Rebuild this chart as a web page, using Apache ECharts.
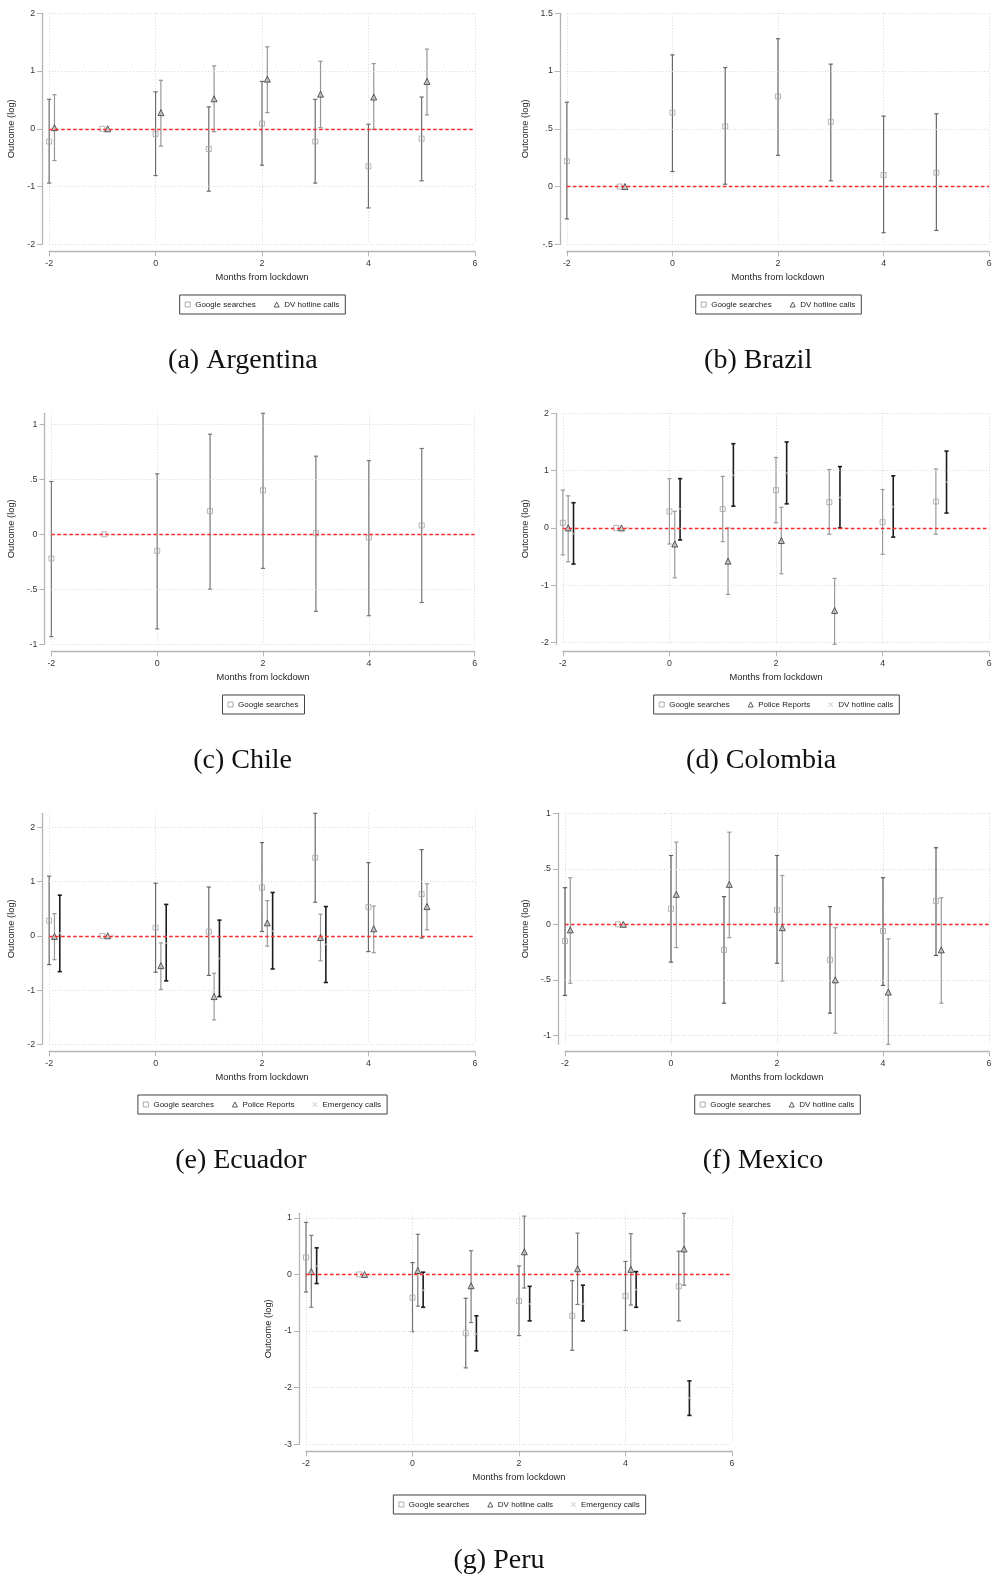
<!DOCTYPE html>
<html><head><meta charset="utf-8">
<script src="https://cdn.jsdelivr.net/npm/echarts@6/dist/echarts.min.js"></script>
<style>
html,body{margin:0;padding:0;background:#fff;overflow:hidden;width:993px;height:1576px;position:relative}
.panel{position:absolute;}
</style></head><body>
<script>
// ---------- DATA ----------
const months = [-2, -1, 0, 1, 2, 3, 4, 5];
const xTicks = [-2, 0, 2, 4, 6];

// (a) Argentina
const arg_google    = [-0.22, 0, -0.09, -0.35, 0.09, -0.22, -0.65, -0.17];
const arg_google_lo = [-0.94, 0, -0.81, -1.08, -0.63, -0.94, -1.37, -0.90];
const arg_google_hi = [0.51, 0, 0.64, 0.38, 0.82, 0.51, 0.08, 0.55];
const arg_dv        = [0.02, 0, 0.28, 0.52, 0.86, 0.60, 0.55, 0.82];
const arg_dv_lo     = [-0.55, 0, -0.30, -0.05, 0.28, 0.02, -0.01, 0.24];
const arg_dv_hi     = [0.59, 0, 0.84, 1.09, 1.42, 1.17, 1.13, 1.38];
const arg_yTicks    = [-2, -1, 0, 1, 2];

// (b) Brazil
const bra_google    = [0.22, 0, 0.64, 0.52, 0.78, 0.56, 0.10, 0.12];
const bra_google_lo = [-0.28, 0, 0.13, 0.02, 0.27, 0.05, -0.40, -0.38];
const bra_google_hi = [0.73, 0, 1.14, 1.03, 1.28, 1.06, 0.61, 0.63];
const bra_dv        = [null, 0, null, null, null, null, null, null];
const bra_dv_lo     = [null, 0, null, null, null, null, null, null];
const bra_dv_hi     = [null, 0, null, null, null, null, null, null];
const bra_yTicks    = [-0.5, 0, 0.5, 1, 1.5];

// (c) Chile
const chl_google    = [-0.22, 0, -0.15, 0.21, 0.40, 0.01, -0.03, 0.08];
const chl_google_lo = [-0.93, 0, -0.86, -0.50, -0.31, -0.70, -0.74, -0.62];
const chl_google_hi = [0.48, 0, 0.55, 0.91, 1.10, 0.71, 0.67, 0.78];
const chl_yTicks    = [-1, -0.5, 0, 0.5, 1];

// (d) Colombia
const col_google    = [0.09, 0, 0.29, 0.33, 0.66, 0.45, 0.10, 0.46];
const col_google_lo = [-0.47, 0, -0.28, -0.24, 0.09, -0.11, -0.46, -0.11];
const col_google_hi = [0.66, 0, 0.86, 0.90, 1.23, 1.02, 0.67, 1.03];
const col_police    = [0.00, 0, -0.28, -0.58, -0.22, -1.44, null, null];
const col_police_lo = [-0.59, 0, -0.87, -1.16, -0.80, -2.03, null, null];
const col_police_hi = [0.56, 0, 0.29, 0.00, 0.36, -0.88, null, null];
const col_dv        = [-0.10, 0, 0.33, 0.92, 0.96, 0.53, 0.37, 0.80];
const col_dv_lo     = [-0.63, 0, -0.21, 0.38, 0.42, 0.00, -0.16, 0.26];
const col_dv_hi     = [0.44, 0, 0.86, 1.47, 1.50, 1.07, 0.91, 1.34];
const col_yTicks    = [-2, -1, 0, 1, 2];

// (e) Ecuador
const ecu_google    = [0.28, 0, 0.15, 0.08, 0.89, 1.44, 0.53, 0.77];
const ecu_google_lo = [-0.53, 0, -0.67, -0.73, 0.08, 0.62, -0.29, -0.04];
const ecu_google_hi = [1.10, 0, 0.97, 0.90, 1.72, 2.26, 1.35, 1.59];
const ecu_police    = [-0.01, 0, -0.55, -1.12, 0.24, -0.03, 0.13, 0.54];
const ecu_police_lo = [-0.44, 0, -0.99, -1.55, -0.19, -0.46, -0.31, 0.11];
const ecu_police_hi = [0.41, 0, -0.13, -0.69, 0.65, 0.40, 0.55, 0.96];
const ecu_emerg     = [0.05, 0, -0.13, -0.42, 0.09, -0.16, null, null];
const ecu_emerg_lo  = [-0.66, 0, -0.83, -1.12, -0.61, -0.86, null, null];
const ecu_emerg_hi  = [0.75, 0, 0.58, 0.29, 0.80, 0.54, null, null];
const ecu_yTicks    = [-2, -1, 0, 1, 2];

// (f) Mexico
const mex_google    = [-0.15, 0, 0.14, -0.23, 0.13, -0.32, -0.06, 0.21];
const mex_google_lo = [-0.64, 0, -0.34, -0.71, -0.35, -0.80, -0.55, -0.28];
const mex_google_hi = [0.33, 0, 0.62, 0.25, 0.62, 0.16, 0.42, 0.69];
const mex_dv        = [-0.05, 0, 0.27, 0.36, -0.03, -0.50, -0.61, -0.23];
const mex_dv_lo     = [-0.53, 0, -0.21, -0.12, -0.51, -0.98, -1.08, -0.71];
const mex_dv_hi     = [0.42, 0, 0.74, 0.83, 0.44, -0.03, -0.13, 0.24];
const mex_yTicks    = [-1, -0.5, 0, 0.5, 1];

// (g) Peru
const per_google    = [0.30, 0, -0.41, -1.04, -0.47, -0.73, -0.38, -0.21];
const per_google_lo = [-0.31, 0, -1.01, -1.65, -1.08, -1.34, -0.99, -0.82];
const per_google_hi = [0.92, 0, 0.21, -0.42, 0.15, -0.11, 0.23, 0.41];
const per_dv        = [0.05, 0, 0.07, -0.20, 0.40, 0.10, 0.09, 0.45];
const per_dv_lo     = [-0.58, 0, -0.56, -0.85, -0.24, -0.53, -0.54, -0.19];
const per_dv_hi     = [0.69, 0, 0.71, 0.42, 1.03, 0.73, 0.72, 1.08];
const per_emerg     = [0.15, 0, -0.28, -1.05, -0.52, -0.52, -0.27, -2.18];
const per_emerg_lo  = [-0.16, 0, -0.58, -1.35, -0.82, -0.82, -0.58, -2.49];
const per_emerg_hi  = [0.47, 0, 0.04, -0.73, -0.21, -0.19, 0.05, -1.88];
const per_yTicks    = [-3, -2, -1, 0, 1];

// ---------- STYLE / LAYOUT ----------
const SANS = '"Liberation Sans", Arial, sans-serif';
const SERIF = '"Liberation Serif", "Times New Roman", serif';
const SYM_X = 'path://M0,1.3L1.3,0L5,3.7L8.7,0L10,1.3L6.3,5L10,8.7L8.7,10L5,6.3L1.3,10L0,8.7L3.7,5Z';
const KIND = {
  square:   {symbol: 'rect', size: 5, itemStyle: {color: 'rgba(255,255,255,0)', borderColor: '#a3a3a3', borderWidth: 1},
             legendStyle: {color: '#fff', borderColor: '#9a9a9a', borderWidth: 1}},
  triangle: {symbol: 'triangle', size: 6, itemStyle: {color: '#bdbdbd', borderColor: '#383838', borderWidth: 1},
             legendStyle: {color: '#fff', borderColor: '#383838', borderWidth: 1}},
  cross:    {symbol: SYM_X, size: 4, itemStyle: {color: '#c4c4c4'},
             legendStyle: {color: '#c4c4c4'}}
};

const panels = [
  {caption: '(a) Argentina', rowTop: 0, plotL: 49.3, plotR: 475, capX: 243, yMin: -2, yMax: 2, yTicks: arg_yTicks,
   series: [
     {name: 'Google searches', v: arg_google, lo: arg_google_lo, hi: arg_google_hi, dx: 0, kind: 'square', ci: '#6e6e6e', w: 1.2},
     {name: 'DV hotline calls', v: arg_dv, lo: arg_dv_lo, hi: arg_dv_hi, dx: 0.1, kind: 'triangle', ci: '#969696', w: 1.2}]},
  {caption: '(b) Brazil', rowTop: 0, plotL: 566.7, plotR: 989, capX: 758, yMin: -0.5, yMax: 1.5, yTicks: bra_yTicks,
   series: [
     {name: 'Google searches', v: bra_google, lo: bra_google_lo, hi: bra_google_hi, dx: 0, kind: 'square', ci: '#686868', w: 1.2},
     {name: 'DV hotline calls', v: bra_dv, lo: bra_dv_lo, hi: bra_dv_hi, dx: 0.1, kind: 'triangle', ci: '#969696', w: 1.2}]},
  {caption: '(c) Chile', rowTop: 400, plotL: 51.7, plotR: 475, capX: 243, yMin: -1, yMax: 1.10, yTicks: chl_yTicks,
   series: [
     {name: 'Google searches', v: chl_google, lo: chl_google_lo, hi: chl_google_hi, dx: 0, kind: 'square', ci: '#777777', w: 1.2}]},
  {caption: '(d) Colombia', rowTop: 400, plotL: 562.7, plotR: 989, capX: 761, yMin: -2.03, yMax: 2, yTicks: col_yTicks,
   series: [
     {name: 'Google searches', v: col_google, lo: col_google_lo, hi: col_google_hi, dx: 0, kind: 'square', ci: '#9a9a9a', w: 1.2},
     {name: 'Police Reports', v: col_police, lo: col_police_lo, hi: col_police_hi, dx: 0.1, kind: 'triangle', ci: '#9a9a9a', w: 1.2},
     {name: 'DV hotline calls', v: col_dv, lo: col_dv_lo, hi: col_dv_hi, dx: 0.2, kind: 'cross', ci: '#1c1c1c', w: 1.6}]},
  {caption: '(e) Ecuador', rowTop: 800, plotL: 49.3, plotR: 475, capX: 241, yMin: -2, yMax: 2.26, yTicks: ecu_yTicks,
   series: [
     {name: 'Google searches', v: ecu_google, lo: ecu_google_lo, hi: ecu_google_hi, dx: 0, kind: 'square', ci: '#686868', w: 1.2},
     {name: 'Police Reports', v: ecu_police, lo: ecu_police_lo, hi: ecu_police_hi, dx: 0.1, kind: 'triangle', ci: '#9a9a9a', w: 1.2},
     {name: 'Emergency calls', v: ecu_emerg, lo: ecu_emerg_lo, hi: ecu_emerg_hi, dx: 0.2, kind: 'cross', ci: '#1c1c1c', w: 1.6}]},
  {caption: '(f) Mexico', rowTop: 800, plotL: 565, plotR: 989, capX: 763, yMin: -1.08, yMax: 1, yTicks: mex_yTicks,
   series: [
     {name: 'Google searches', v: mex_google, lo: mex_google_lo, hi: mex_google_hi, dx: 0, kind: 'square', ci: '#5a5a5a', w: 1.2},
     {name: 'DV hotline calls', v: mex_dv, lo: mex_dv_lo, hi: mex_dv_hi, dx: 0.1, kind: 'triangle', ci: '#9a9a9a', w: 1.2}]},
  {caption: '(g) Peru', rowTop: 1200, plotL: 306, plotR: 732, capX: 499, yMin: -3, yMax: 1.08, yTicks: per_yTicks,
   series: [
     {name: 'Google searches', v: per_google, lo: per_google_lo, hi: per_google_hi, dx: 0, kind: 'square', ci: '#727272', w: 1.2},
     {name: 'DV hotline calls', v: per_dv, lo: per_dv_lo, hi: per_dv_hi, dx: 0.1, kind: 'triangle', ci: '#7c7c7c', w: 1.2},
     {name: 'Emergency calls', v: per_emerg, lo: per_emerg_lo, hi: per_emerg_hi, dx: 0.2, kind: 'cross', ci: '#1c1c1c', w: 1.6}]}
];

function fmtY(v) {
  if (Math.abs(v) < 1e-9) return '0';
  return String(+v.toFixed(2)).replace(/^(-?)0\./, '$1.');
}

function makeCI(color, width) {
  return function (params, api) {
    const x = api.value(0), lo = api.value(1), hi = api.value(2);
    const p1 = api.coord([x, lo]);
    const p2 = api.coord([x, hi]);
    const c = 2.1;
    const st = {stroke: color, lineWidth: width};
    return {type: 'group', children: [
      {type: 'line', shape: {x1: p1[0], y1: p1[1], x2: p2[0], y2: p2[1]}, style: st},
      {type: 'line', shape: {x1: p1[0] - c, y1: p1[1], x2: p1[0] + c, y2: p1[1]}, style: st},
      {type: 'line', shape: {x1: p2[0] - c, y1: p2[1], x2: p2[0] + c, y2: p2[1]}, style: st}
    ]};
  };
}

panels.forEach(function (p) {
  const center = (p.plotL + p.plotR) / 2;
  const divLeft = center - 280;
  const div = document.createElement('div');
  div.className = 'panel';
  div.style.left = divLeft + 'px';
  div.style.top = p.rowTop + 'px';
  div.style.width = '560px';
  div.style.height = '400px';
  document.body.appendChild(div);
  const chart = echarts.init(div, null, {renderer: 'canvas'});

  const series = [];
  const ml = p.yTicks.map(function (t) {
    return {yAxis: t, lineStyle: {color: '#d6d6d6', type: [1, 2], width: 1}};
  });
  ml.push({yAxis: 0, lineStyle: {color: '#ff2a2a', type: [3.5, 2.5], width: 1.4}});
  series.push({type: 'scatter', data: [], silent: true, z: 1,
    markLine: {silent: true, symbol: 'none', animation: false, label: {show: false}, data: ml}});

  p.series.forEach(function (s) {
    const ciData = [];
    const ptData = [];
    months.forEach(function (m, i) {
      if (s.v[i] === null) return;
      ptData.push([m + s.dx, s.v[i]]);
      if (s.lo[i] !== null && s.lo[i] !== s.hi[i]) ciData.push([m + s.dx, s.lo[i], s.hi[i]]);
    });
    series.push({type: 'custom', name: s.name + ' CI', data: ciData, renderItem: makeCI(s.ci, s.w),
      encode: {x: 0, y: [1, 2]}, z: 3, silent: true, clip: false});
    const k = KIND[s.kind];
    series.push({type: 'scatter', name: s.name, data: ptData, symbol: k.symbol, symbolSize: k.size,
      itemStyle: k.itemStyle, z: 4, silent: true});
  });

  const legendData = p.series.map(function (s) {
    const k = KIND[s.kind];
    return {name: s.name, icon: k.symbol, itemStyle: k.legendStyle};
  });

  chart.setOption({
    animation: false,
    backgroundColor: '#fff',
    textStyle: {fontFamily: SANS},
    grid: {left: p.plotL - divLeft, top: 13.3, width: p.plotR - p.plotL, height: 231, containLabel: false},
    xAxis: {
      type: 'value', min: -2, max: 6, interval: 2, offset: 7, position: 'bottom',
      name: 'Months from lockdown', nameLocation: 'middle', nameGap: 22,
      nameTextStyle: {fontSize: 9.3, color: '#1e1e1e', fontFamily: SANS},
      axisLine: {show: true, onZero: false, lineStyle: {color: '#b4b4b4', width: 1.3}},
      axisTick: {show: true, length: 5, lineStyle: {color: '#b4b4b4', width: 1}},
      axisLabel: {fontSize: 8.8, color: '#333', margin: 8, fontFamily: SANS},
      splitLine: {show: true, lineStyle: {color: '#d6d6d6', type: [1, 2], width: 1}}
    },
    yAxis: {
      type: 'value', min: p.yMin, max: p.yMax, offset: 7, position: 'left',
      name: 'Outcome (log)', nameLocation: 'middle', nameGap: 22,
      nameTextStyle: {fontSize: 9.3, color: '#1e1e1e', fontFamily: SANS},
      axisLine: {show: true, onZero: false, lineStyle: {color: '#b4b4b4', width: 1.3}},
      axisTick: {show: true, length: 5, customValues: p.yTicks, lineStyle: {color: '#b4b4b4', width: 1}},
      axisLabel: {fontSize: 8.8, color: '#333', margin: 7, customValues: p.yTicks, formatter: fmtY, fontFamily: SANS},
      splitLine: {show: false}
    },
    legend: {
      top: 295, left: 'center', orient: 'horizontal', itemWidth: 5, itemHeight: 5, itemGap: 18,
      padding: [5, 6, 5, 5], borderColor: '#404040', borderWidth: 1, selectedMode: false,
      textStyle: {fontSize: 8, color: '#222', fontFamily: SANS, lineHeight: 9},
      data: legendData
    },
    graphic: [{type: 'text', x: p.capX - divLeft, y: 361, silent: true,
      style: {text: p.caption, font: '28px ' + SERIF, fill: '#111', align: 'center', verticalAlign: 'middle'}}],
    series: series
  });
});
</script>
</body></html>
